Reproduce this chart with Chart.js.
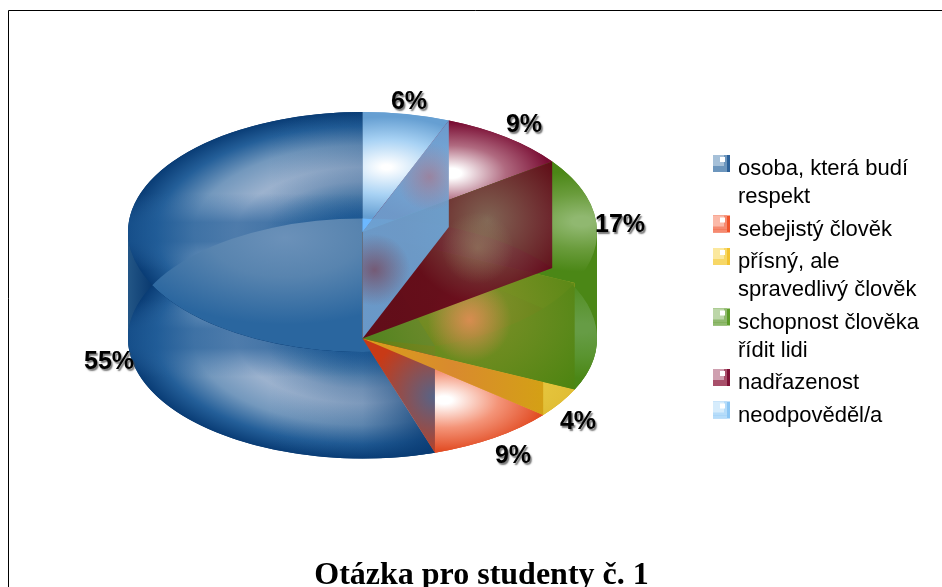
<!DOCTYPE html>
<html><head><meta charset="utf-8">
<script src="https://cdn.jsdelivr.net/npm/chart.js@4"></script>
<style>html,body{margin:0;padding:0;background:#fff;overflow:hidden}canvas{display:block}</style>
</head><body><canvas id="c" width="942" height="587"></canvas>
<script>
const chartTitle = "Otázka pro studenty č. 1";
const categories = [["osoba, která budí","respekt"],["sebejistý člověk"],["přísný, ale","spravedlivý člověk"],["schopnost člověka","řídit lidi"],["nadřazenost"],["neodpověděl/a"]];
const values = [55, 9, 4, 17, 9, 6];
const swatchColors = [["#2c6199","#6d96bd","#a6c0d8"],["#f0532a","#f58a70","#fbb9a8"],["#f2c230","#f7d766","#fbe89e"],["#5c9c28","#8fb96e","#bcd6a8"],["#7f1236","#a84f6a","#cfa0b0"],["#8cc6f4","#b5dcfa","#d6ecfc"]];
// label centres, legend order
const labelPos = [[109,360],[513,454],[578,420],[620,223],[524,123],[409,100]];
// geometry of the drum
const topCy = 232, botCy = 338.5;
const k = 120/234.5;

const order = values.map((_,i)=>i).reverse();      // slices run anticlockwise from 12 o'clock
const sliceValues = order.map(i=>values[i]);

const look = { // index in legend order
  0:{edge:"#0a3d76"},
  1:{edge:"#e24e26",mid:"#f49478",hi:"#ffffff",r:.62,gr:.42,p:.08},
  2:{edge:"#dcb428",mid:"#e2c038",hi:"#e8c840",r:.75,gr:.4,p:.1},
  3:{edge:"#4b8716",mid:"#6a9c3c",hi:"#90b870",r:.94,gr:.42,p:.1},
  4:{edge:"#7a0e34",mid:"#b06a80",hi:"#ffffff",r:.62,gr:.42,p:.1},
  5:{edge:"#669fd2",mid:"#a8d2f4",hi:"#ffffff",r:.55,gr:.42,p:.05}
};

const drum = {
  id:"drum",
  beforeDraw(chart){
    const c=chart.ctx;
    c.save();c.strokeStyle="#000";c.lineWidth=1;c.beginPath();
    c.moveTo(8.5,587);c.lineTo(8.5,10.5);c.lineTo(942,10.5);c.stroke();c.restore();
  },
  afterLayout(chart){ chart.titleBlock.left=21; chart.titleBlock.right=942; },
  beforeDatasetsDraw(chart){
    const c=chart.ctx, arcs=chart.getDatasetMeta(0).data;
    const a0=arcs[0], cx=a0.x, ay=a0.y, R=a0.outerRadius, ry=R*k;
    const P=(a,cy)=>[cx+R*Math.cos(a),cy+ry*Math.sin(a)];
    const grad=(i,lower)=>{
      const a=arcs[i], li=order[i], L=look[li];
      if(li===0){
        const g=c.createRadialGradient(cx,ay,0,cx,ay,R);
        g.addColorStop(0,"#1a5a96");g.addColorStop(.14,"#2a659e");g.addColorStop(.28,"#5584b0");
        g.addColorStop(.42,"#8aa5c5");g.addColorStop(.54,"#9cb2ce");g.addColorStop(.72,"#7398bd");g.addColorStop(.88,"#245f99");g.addColorStop(1,"#093c75");
        return g;
      }
      const m=(a.startAngle+a.endAngle)/2;
      const hx=cx+L.r*R*Math.cos(m), hy=ay+L.r*R*Math.sin(m);
      const g=c.createRadialGradient(hx,hy,0,hx,hy,L.gr*R);
      const dull=lower&&li===3;
      g.addColorStop(0,dull?"#669c45":L.hi);g.addColorStop(L.p,dull?"#669c45":L.hi);g.addColorStop(.55,dull?"#5a9430":L.mid);g.addColorStop(1,L.edge);
      return g;
    };
    const cap=(i,cy,fill,alpha)=>{
      const a=arcs[i], saved=a.options;
      c.save();c.globalAlpha=alpha;c.translate(0,cy);c.scale(1,k);c.translate(0,-ay);
      a.options=Object.assign({},saved,{backgroundColor:fill,borderWidth:0});
      a.draw(c);
      a.options=saved;c.restore();
    };
    // outer walls, split where the rim turns back so each piece sweeps cleanly
    arcs.forEach((a,i)=>{
      const li=order[i];
      const g=c.createLinearGradient(cx-R,0,cx+R,0);
      if(li===0){g.addColorStop(0,"#235686");g.addColorStop(.05,"#0a3a70");g.addColorStop(1,"#0a3d72");}
      else {g.addColorStop(0,look[li].edge);g.addColorStop(1,look[li].edge);}
      const cuts=[a.startAngle];
      for(let n=-2;n<4;n++){const t=n*Math.PI;if(t>a.startAngle&&t<a.endAngle)cuts.push(t);}
      cuts.push(a.endAngle);
      for(let n=0;n<cuts.length-1;n++){
        c.save();c.fillStyle=g;c.beginPath();
        c.ellipse(cx,topCy,R,ry,0,cuts[n],cuts[n+1]);
        c.ellipse(cx,botCy,R,ry,0,cuts[n+1],cuts[n],true);
        c.closePath();c.fill();c.restore();
      }
    });
    // the blue slice: highlight fades towards 12 o'clock and around each disc's waist
    const dim=()=>{const g=c.createLinearGradient(cx-R,0,cx+R,0);
      g.addColorStop(.3,"rgba(12,64,120,0)");g.addColorStop(.5,"rgba(12,64,120,.22)");g.addColorStop(.66,"rgba(8,58,114,.85)");return g;};
    const waist=()=>{const g=c.createLinearGradient(0,ay-R,0,ay+R);
      g.addColorStop(.34,"rgba(40,100,160,0)");g.addColorStop(.46,"rgba(30,90,150,.62)");g.addColorStop(.54,"rgba(30,90,150,.62)");g.addColorStop(.66,"rgba(40,100,160,0)");return g;};
    const blue=order.indexOf(0);
    const blueCap=(cy)=>{cap(blue,cy,grad(blue),1);cap(blue,cy,waist(),1);cap(blue,cy,dim(),1);};
    arcs.forEach((_,i)=>{if(i!==blue)cap(i,botCy,grad(i,true),1);});
    blueCap(botCy);
    arcs.forEach((_,i)=>{if(i!==blue)cap(i,topCy,grad(i,false),1);});
    blueCap(topCy);
    arcs.forEach((_,i)=>{if(i!==blue)cap(i,botCy,grad(i,true),.5);});
    // lens where the two blue discs overlap: flat, soft glow
    c.save();
    c.beginPath();c.ellipse(cx,topCy,R,ry,0,0,Math.PI*2);c.clip();
    c.beginPath();c.ellipse(cx,botCy,R,ry,0,0,Math.PI*2);c.clip();
    const lg=c.createRadialGradient(cx-.33*R,ay+.05*R,0,cx-.33*R,ay+.05*R,.72*R);
    lg.addColorStop(0,"#6b91b9");lg.addColorStop(.45,"#5884af");lg.addColorStop(1,"#2a669f");
    cap(blue,topCy,lg,1);
    c.restore();
    // radial faces
    const path=(pts)=>{c.beginPath();pts.forEach((p,j)=>j?c.lineTo(p[0],p[1]):c.moveTo(p[0],p[1]));c.closePath();};
    const face=(pts,gx,gy,gr,inner,outer,alpha)=>{
      c.save();c.globalAlpha=alpha;path(pts);
      const g=c.createRadialGradient(gx,gy,0,gx,gy,gr);g.addColorStop(0,inner);g.addColorStop(1,outer);
      c.fillStyle=g;c.fill();c.restore();
    };
    const blob=(pts,gx,gy,gr,rgb,alpha)=>face(pts,gx,gy,gr,`rgba(${rgb},${alpha})`,`rgba(${rgb},0)`,1);
    const iRed=order.indexOf(1),iYel=order.indexOf(2),iGreen=order.indexOf(3),iMar=order.indexOf(4),iLb=order.indexOf(5);
    const apexT=[cx,topCy],apexB=[cx,botCy];
    const quad=(e)=>[apexT,P(e,topCy),P(e,botCy),apexB];
    let e=arcs[iRed].endAngle;
    face([apexB,P(e,topCy),P(e,botCy)],P(e,botCy)[0],botCy+58,66,"#566488","#c83a16",1);
    // gold band where the yellow slice passes over the red one
    const ys=P(arcs[iYel].endAngle,botCy), ye=P(arcs[iYel].startAngle,botCy);
    const t=(ys[0]-cx)/(ye[0]-cx);
    c.save();path([apexB,ys,[ys[0],botCy+t*(ye[1]-botCy)]]);
    const gb=c.createLinearGradient(cx,0,ys[0],0);
    gb.addColorStop(0,"#d9a018");gb.addColorStop(.5,"#d98a2e");gb.addColorStop(1,"#d4a015");
    c.fillStyle=gb;c.fill();c.restore();
    const greenQ=quad(arcs[iGreen].endAngle);
    face(greenQ,cx+110,310,130,"#85902a","#4c8410",.92);
    blob(greenQ,cx+107,320,42,"236,140,90",.8);
    const marQ=quad(arcs[iMar].endAngle);
    face(marQ,cx+125,220,85,"#86605a","#630018",.9);
    blob(marQ,cx+115,248,36,"170,170,120",.35);
    const lbQ=quad(arcs[iLb].endAngle);
    // small bright sliver just under the far rim
    const de=P(arcs[iLb].endAngle,topCy);
    c.save();path([apexT,[cx,botCy-ry],[cx+(de[0]-cx)*.115,topCy+(de[1]-topCy)*.115]]);c.fillStyle="#6cb8ff";c.fill();c.restore();
    face(lbQ,cx+45,226,110,"#6ea8d8","#6aa8dc",.9);
    blob(lbQ,cx+12,270,36,"120,70,90",.75);
    blob(lbQ,cx+67,177,34,"170,110,130",.65);
    return false;
  },
  afterDraw(chart){
    const c=chart.ctx;
    // percentage labels
    c.save();c.font="bold 25px 'Liberation Sans'";c.textAlign="center";c.textBaseline="alphabetic";c.fillStyle="#000";
    c.shadowColor="rgba(70,70,70,.75)";c.shadowOffsetX=1.5;c.shadowOffsetY=1.5;c.shadowBlur=1.5;
    values.forEach((v,i)=>c.fillText(v+"%",labelPos[i][0],labelPos[i][1]+9));
    c.restore();
    // legend
    c.save();c.font="22px 'Liberation Sans'";c.textAlign="left";c.textBaseline="alphabetic";
    let y=175;
    categories.forEach((lines,i)=>{
      const [d,m,l]=swatchColors[i], sy=y-20;
      c.fillStyle=d;c.fillRect(713,sy,17,17);
      c.fillStyle=m;c.fillRect(713,sy,14,14);
      c.fillStyle=l;c.fillRect(713,sy,11,11);
      c.fillStyle=m;c.fillRect(713,sy+14,14,3);
      c.fillStyle="#fff";c.fillRect(720,sy+2,5,5);
      c.fillStyle="#000";
      lines.forEach((t,j)=>c.fillText(t,738,y+j*28));
      y+=(lines.length-1)*28+32.5;
    });
    c.restore();
  }
};

new Chart(document.getElementById("c"),{
  type:"pie",
  data:{labels:order.map(i=>categories[i].join(" ")),datasets:[{data:sliceValues,borderWidth:0,backgroundColor:order.map(i=>swatchColors[i][0])}]},
  options:{
    responsive:false,animation:false,rotation:0,
    layout:{padding:{left:128,right:345,top:87.6,bottom:0}},
    plugins:{
      legend:{display:false},tooltip:{enabled:false},
      title:{display:true,position:"bottom",text:chartTitle,color:"#000",padding:{top:0,bottom:-8},
        font:{family:"'Liberation Serif'",size:32,weight:"bold",lineHeight:1.2}}
    }
  },
  plugins:[drum]
});
</script></body></html>
